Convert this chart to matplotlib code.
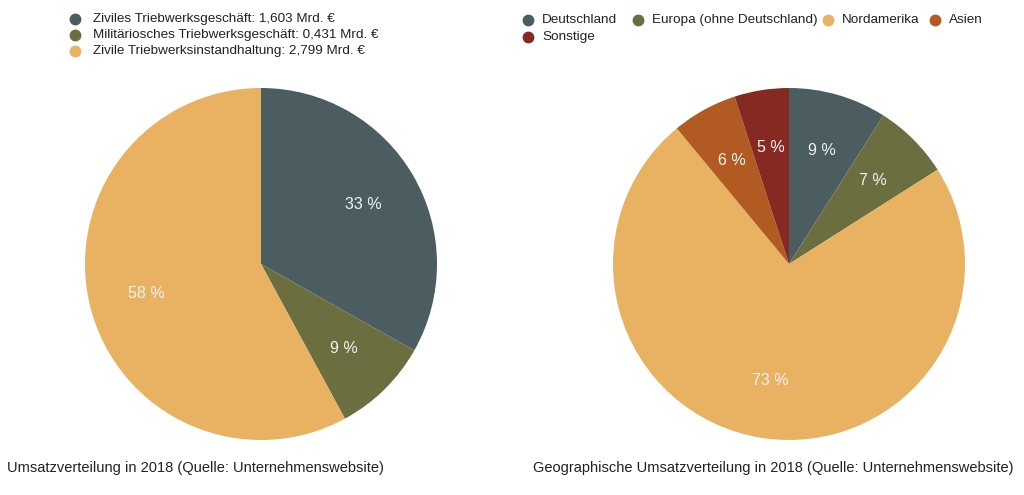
import matplotlib.pyplot as plt
from matplotlib.lines import Line2D

W, H = 1024, 495

seg_labels = [
    "Ziviles Triebwerksgeschäft: 1,603 Mrd. €",
    "Militäriosches Triebwerksgeschäft: 0,431 Mrd. €",
    "Zivile Triebwerksinstandhaltung: 2,799 Mrd. €",
]
seg_values = [1.603, 0.431, 2.799]
seg_colors = ["#4b5d60", "#6b6e3f", "#e8b262"]

geo_labels = ["Deutschland", "Europa (ohne Deutschland)", "Nordamerika", "Asien", "Sonstige"]
geo_values = [9, 7, 73, 6, 5]
geo_colors = ["#4b5d60", "#6b6e3f", "#e8b262", "#b15a22", "#842a22"]

plt.rcParams["font.family"] = ["Liberation Sans", "DejaVu Sans"]

fig = plt.figure(figsize=(W / 100, H / 100), dpi=100)


def pie_axes(cx, cy, r):
    return fig.add_axes([(cx - r) / W, (H - cy - r) / H, 2 * r / W, 2 * r / H])


def draw_pie(ax, values, colors):
    ax.pie(
        values, colors=colors, startangle=90, counterclock=False,
        autopct="%.0f %%", pctdistance=0.67, radius=1.0,
        wedgeprops=dict(linewidth=0),
        textprops=dict(color="#f2f2f2", fontsize=11.5),
    )
    ax.set_xlim(-1, 1)
    ax.set_ylim(-1, 1)
    ax.set_aspect("equal")


def legend_item(x, y, color, text, gap):
    fig.add_artist(Line2D([x / W], [1 - y / H], marker="o", markersize=7.5,
                          color=color, linestyle="none", transform=fig.transFigure))
    fig.text((x + gap) / W, 1 - y / H, text, fontsize=9.7, color="#222222",
             va="center", ha="left")


draw_pie(pie_axes(261, 264, 176), seg_values, seg_colors)
draw_pie(pie_axes(789, 264, 176), geo_values, geo_colors)

# Legende links
for i, (lab, col) in enumerate(zip(seg_labels, seg_colors)):
    legend_item(75, 19 + 16 * i, col, lab, 18)

# Legende rechts
geo_pos = [(528, 20), (638, 20), (828, 20), (935, 20), (528, 37)]
for (x, y), lab, col in zip(geo_pos, geo_labels, geo_colors):
    legend_item(x, y, col, lab, 14)

fig.text(7 / W, 1 - 468 / H, "Umsatzverteilung in 2018 (Quelle: Unternehmenswebsite)",
         fontsize=10.5, color="#222222", va="center", ha="left")
fig.text(533 / W, 1 - 468 / H,
         "Geographische Umsatzverteilung in 2018 (Quelle: Unternehmenswebsite)",
         fontsize=10.5, color="#222222", va="center", ha="left")

fig.savefig("out.png", dpi=100)
